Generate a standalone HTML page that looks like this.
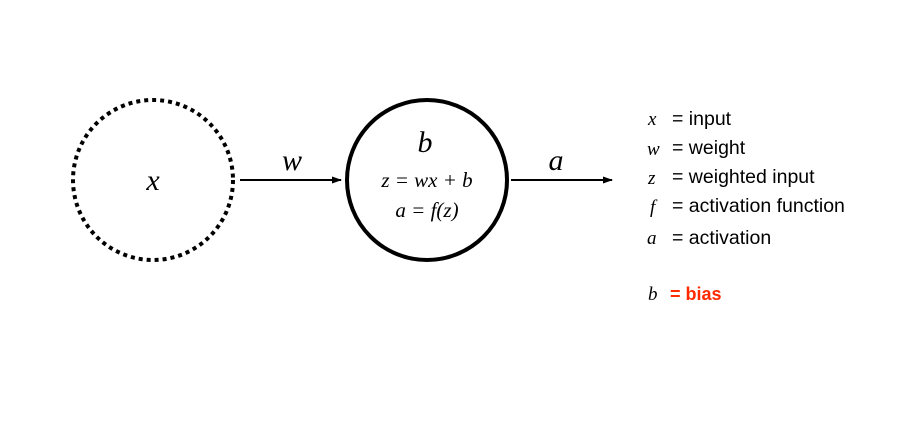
<!DOCTYPE html>
<html><head><style>
body{margin:0;width:905px;height:425px;background:#fff;overflow:hidden}
</style></head><body>
<svg width="905" height="425" xmlns="http://www.w3.org/2000/svg">
<defs><marker id="ah" markerUnits="userSpaceOnUse" markerWidth="10" markerHeight="8" refX="9" refY="4" orient="auto"><path d="M0,0.5 L10,4 L0,7.5 z" fill="#000"/></marker></defs>
<circle cx="153" cy="180" r="80" fill="none" stroke="#000" stroke-width="4" stroke-dasharray="4,4"/>
<circle cx="427" cy="180" r="80" fill="none" stroke="#000" stroke-width="4"/>
<line x1="240" y1="180" x2="341" y2="180" stroke="#000" stroke-width="2" marker-end="url(#ah)"/>
<line x1="511" y1="180" x2="612" y2="180" stroke="#000" stroke-width="2" marker-end="url(#ah)"/>
<g font-family="Liberation Serif, serif" font-style="italic" fill="#000">
<text x="153" y="190" font-size="30" text-anchor="middle">x</text>
<text x="292" y="170" font-size="30" text-anchor="middle">w</text>
<text x="556" y="170" font-size="30" text-anchor="middle">a</text>
<text x="425" y="152" font-size="30" text-anchor="middle">b</text>
<text x="427" y="187" font-size="21" text-anchor="middle">z = wx + b</text>
<text x="427" y="217" font-size="21" text-anchor="middle">a = f(z)</text>
<g font-size="19">
<text x="648" y="125">x</text><text x="647" y="155">w</text><text x="648" y="184">z</text>
<text x="650" y="213">f</text><text x="647" y="244">a</text><text x="648" y="300">b</text>
</g></g>
<g font-family="Liberation Sans, sans-serif" font-size="19.5" fill="#000">
<text x="672" y="125">= input</text><text x="672" y="154">= weight</text>
<text x="672" y="183">= weighted input</text><text x="672" y="212">= activation function</text>
<text x="672" y="244">= activation</text>
<text x="670" y="300" fill="#ff2a00" font-weight="bold" font-size="18">= bias</text>
</g>
</svg>
</body></html>
